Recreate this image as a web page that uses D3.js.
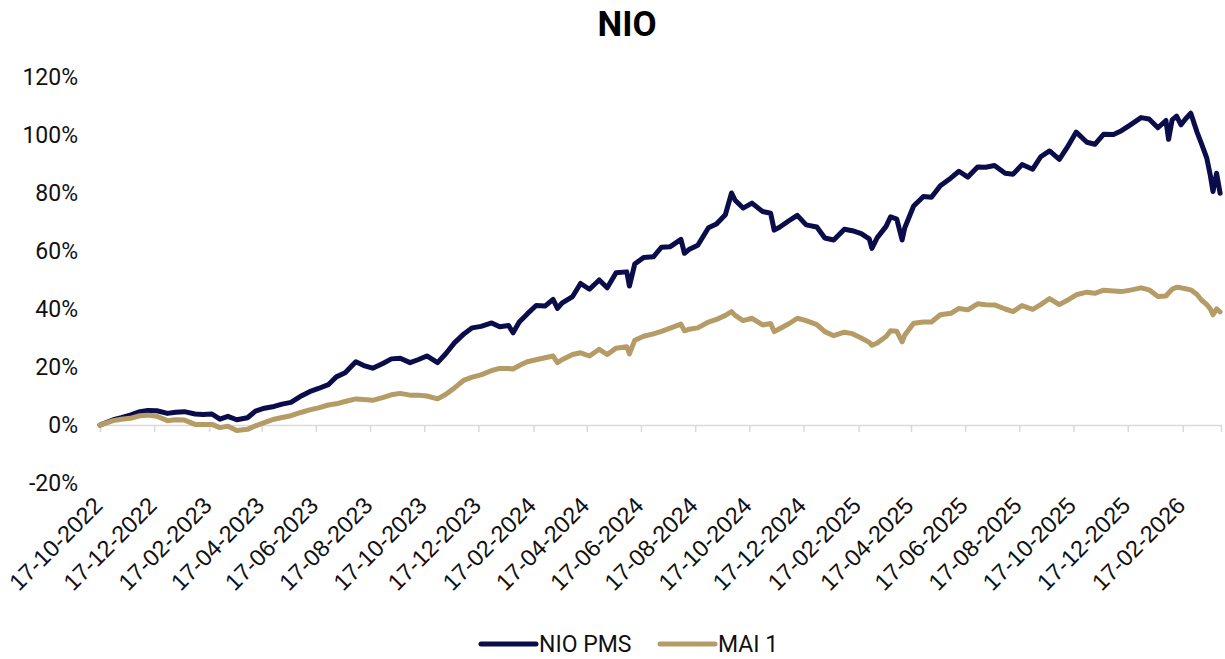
<!DOCTYPE html>
<html>
<head>
<meta charset="utf-8">
<script src="https://cdn.jsdelivr.net/npm/d3@7"></script>
<style>
  body { margin: 0; background: #fff; }
  svg text { font-family: Roboto, "Noto Sans", sans-serif; fill: #111; }
</style>
</head>
<body>
<svg id="chart" width="1225" height="659"></svg>
<script>
// dates of the readings (yyyy-mm-dd)
var dates = [
  '2022-10-17','2022-11-01','2022-11-10','2022-11-20','2022-12-01','2022-12-10','2022-12-20',
  '2023-01-01','2023-01-10','2023-01-20','2023-02-01','2023-02-10','2023-02-20',
  '2023-03-01','2023-03-10','2023-03-20','2023-04-01','2023-04-10','2023-04-20',
  '2023-05-01','2023-05-10','2023-05-20','2023-06-01','2023-06-10','2023-06-20',
  '2023-07-01','2023-07-10','2023-07-20','2023-08-01','2023-08-10','2023-08-20',
  '2023-09-01','2023-09-10','2023-09-20','2023-10-01','2023-10-10','2023-10-20',
  '2023-11-01','2023-11-10','2023-11-20','2023-12-01','2023-12-10','2023-12-20',
  '2024-01-01','2024-01-10','2024-01-20','2024-01-25','2024-02-01','2024-02-10','2024-02-20',
  '2024-03-01','2024-03-10','2024-03-15','2024-03-20','2024-04-01','2024-04-10','2024-04-20',
  '2024-05-01','2024-05-10','2024-05-20','2024-06-01','2024-06-04','2024-06-10','2024-06-20',
  '2024-07-01','2024-07-10','2024-07-20','2024-08-01','2024-08-05','2024-08-10','2024-08-20',
  '2024-09-01','2024-09-10','2024-09-20','2024-09-27','2024-10-01','2024-10-10','2024-10-20',
  '2024-11-01','2024-11-10','2024-11-14','2024-11-20','2024-12-01','2024-12-10','2024-12-20',
  '2025-01-01','2025-01-10','2025-01-20','2025-02-01','2025-02-10','2025-02-20',
  '2025-03-01','2025-03-04','2025-03-10','2025-03-20','2025-03-25','2025-04-01','2025-04-07','2025-04-10','2025-04-20',
  '2025-05-01','2025-05-10','2025-05-20','2025-06-01','2025-06-10','2025-06-20',
  '2025-07-01','2025-07-10','2025-07-20','2025-08-01','2025-08-10','2025-08-20',
  '2025-09-01','2025-09-10','2025-09-20','2025-10-01','2025-10-10','2025-10-20',
  '2025-11-01','2025-11-10','2025-11-20','2025-12-01','2025-12-10','2025-12-20',
  '2026-01-01','2026-01-10','2026-01-20','2026-01-29','2026-02-01','2026-02-05','2026-02-10','2026-02-15','2026-02-20','2026-02-26',
  '2026-03-05','2026-03-10','2026-03-16','2026-03-20','2026-03-23','2026-03-27','2026-03-31'
];

// cumulative return, %
var nioPms = [
  0, 1.8, 2.5, 3.4, 4.6, 5.0, 4.9,
  4.0, 4.4, 4.6, 3.8, 3.6, 3.8,
  2.0, 3.0, 1.8, 2.5, 4.8, 5.8,
  6.4, 7.2, 7.8, 10.1, 11.5, 12.6,
  13.9, 16.6, 18.0, 21.8, 20.5, 19.6,
  21.3, 22.8, 23.0, 21.5, 22.5, 23.8,
  21.5, 24.5, 28.3, 31.5, 33.5, 34.0,
  35.2, 33.9, 34.3, 31.8, 35.5, 38.3, 41.2,
  41.0, 43.3, 40.2, 42.0, 44.3, 48.8, 46.8,
  50.0, 47.3, 52.5, 52.8, 47.9, 55.5, 57.8,
  58.0, 61.3, 61.5, 64.0, 59.2, 60.5, 62.0,
  68.0, 69.3, 72.5, 80.0, 77.5, 74.8, 76.5,
  73.6, 73.0, 67.2, 68.2, 70.5, 72.3, 69.0,
  68.3, 64.5, 63.8, 67.5, 67.0, 66.0,
  64.2, 60.9, 64.6, 68.5, 71.8, 71.0, 63.8, 68.0, 75.5,
  78.8, 78.5, 82.5, 85.2, 87.5, 85.5,
  89.0, 88.9, 89.5, 86.8, 86.5, 89.8,
  88.2, 92.5, 94.5, 91.6, 95.8, 101.0,
  97.5, 96.8, 100.3, 100.2, 101.5, 103.5,
  106.0, 105.5, 102.5, 105.0, 98.5, 105.2, 106.5, 103.5, 105.5, 107.5,
  101.0, 97.0, 92.0, 86.0, 80.5, 86.8, 79.9
];

var mai1 = [
  0, 1.5, 2.0, 2.3, 3.2, 3.4, 3.0,
  1.5, 1.8, 1.7, 0.2, 0.2, 0.2,
  -0.9, -0.4, -1.9, -1.5, -0.3, 0.8,
  2.0, 2.6, 3.2, 4.4, 5.2, 5.9,
  6.9, 7.3, 8.1, 9.0, 8.8, 8.5,
  9.5, 10.4, 10.9, 10.3, 10.3, 10.0,
  9.0, 10.5, 12.8, 15.5, 16.5, 17.3,
  18.8, 19.5, 19.5, 19.3, 20.5, 21.8, 22.5,
  23.2, 23.8, 21.5, 22.5, 24.3, 24.9, 23.8,
  26.1, 24.3, 26.5, 27.0, 24.5, 29.2, 30.6,
  31.4, 32.3, 33.4, 34.8, 32.5, 33.0, 33.5,
  35.5, 36.4, 37.8, 39.1, 37.8, 36.0, 36.8,
  34.5, 35.0, 32.2, 33.2, 35.0, 36.8, 36.0,
  34.6, 32.2, 30.8, 32.0, 31.5, 30.0,
  28.5, 27.5, 28.3, 30.5, 32.5, 32.3, 28.7, 31.0, 35.1,
  35.5, 35.5, 38.0, 38.5, 40.2, 39.7,
  41.8, 41.5, 41.4, 40.0, 39.1, 41.2,
  39.9, 41.5, 43.6, 41.5, 43.0, 44.9,
  45.8, 45.4, 46.5, 46.2, 46.0, 46.5,
  47.3, 46.6, 44.3, 44.5, 45.5, 46.8, 47.5, 47.3, 47.0, 46.6,
  45.0, 43.1, 41.5, 40.0, 38.0, 40.0, 39.0
];

var seriesNames = ['NIO PMS', 'MAI 1'];
var seriesColors = ['#0b0c4a', '#b59b66'];

var xTickLabels = [
  '17-10-2022','17-12-2022','17-02-2023','17-04-2023','17-06-2023','17-08-2023',
  '17-10-2023','17-12-2023','17-02-2024','17-04-2024','17-06-2024','17-08-2024',
  '17-10-2024','17-12-2024','17-02-2025','17-04-2025','17-06-2025','17-08-2025',
  '17-10-2025','17-12-2025','17-02-2026'
];
var yTicks = [-20, 0, 20, 40, 60, 80, 100, 120];

var parseDate = d3.timeParse('%Y-%m-%d');
var parseTick = d3.timeParse('%d-%m-%Y');

var svg = d3.select('#chart');

var x = d3.scaleTime()
    .domain([parseDate('2022-10-17'), parseDate('2026-04-01')])
    .range([100, 1221]);
var y = d3.scaleLinear()
    .domain([-20, 120])
    .range([483, 77]);

// title
svg.append('text')
    .attr('x', 627)
    .attr('y', 36)
    .attr('text-anchor', 'middle')
    .style('font-size', '35px')
    .style('font-weight', 'bold')
    .style('fill', '#000')
    .text('NIO');

// y axis labels (no line)
var yAxis = svg.append('g')
    .attr('transform', 'translate(78,0)')
    .call(d3.axisLeft(y).tickValues(yTicks).tickSize(0).tickPadding(0)
        .tickFormat(function(d) { return d + '%'; }));
yAxis.select('.domain').remove();
yAxis.selectAll('text')
    .style('font-family', 'Roboto, sans-serif')
    .style('font-size', '23px')
    .attr('fill', '#111');

// x axis at zero
var tickDates = xTickLabels.map(parseTick);
var xAxis = svg.append('g')
    .attr('transform', 'translate(0,' + y(0) + ')')
    .call(d3.axisBottom(x).tickValues(tickDates).tickSize(7).tickFormat(''));
xAxis.select('.domain').attr('stroke', '#d9d9d9').attr('stroke-width', 1.5);
xAxis.selectAll('.tick line').attr('stroke', '#d9d9d9').attr('stroke-width', 1.5);

// rotated date labels below the plot
svg.append('g').selectAll('text')
    .data(tickDates)
    .enter()
    .append('text')
    .attr('transform', function(d) {
        return 'translate(' + (x(d) + 4) + ',' + 507 + ') rotate(-45)';
    })
    .attr('text-anchor', 'end')
    .style('font-family', '"Liberation Sans Narrow", "Arial Narrow", sans-serif')
    .style('font-size', '23.5px')
    .style('fill', '#111')
    .text(function(d, i) { return xTickLabels[i]; });

// lines
var line = d3.line()
    .x(function(d) { return x(d.date); })
    .y(function(d) { return y(d.value); });

[nioPms, mai1].forEach(function(values, s) {
    var pts = dates.map(function(d, i) { return { date: parseDate(d), value: values[i] }; });
    svg.append('path')
        .datum(pts)
        .attr('fill', 'none')
        .attr('stroke', seriesColors[s])
        .attr('stroke-width', 5)
        .attr('stroke-linejoin', 'round')
        .attr('stroke-linecap', 'round')
        .attr('d', line);
});

// legend
var legendX = [481, 660];
var legend = svg.selectAll('.legend')
    .data(seriesNames)
    .enter()
    .append('g')
    .attr('class', 'legend')
    .attr('transform', function(d, i) { return 'translate(' + legendX[i] + ',644)'; });
legend.append('line')
    .attr('x1', 0).attr('x2', 55)
    .attr('stroke', function(d, i) { return seriesColors[i]; })
    .attr('stroke-width', 5)
    .attr('stroke-linecap', 'round');
legend.append('text')
    .attr('x', 58)
    .attr('y', 8)
    .style('font-size', '23px')
    .text(function(d) { return d; });
</script>
</body>
</html>
